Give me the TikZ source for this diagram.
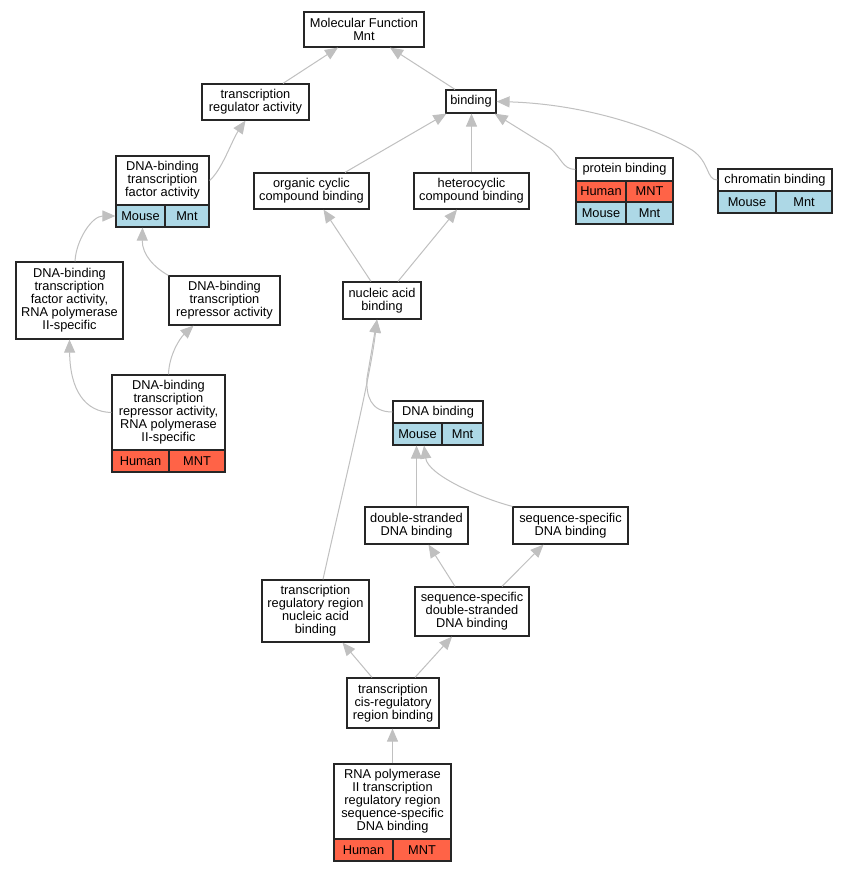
\documentclass[tikz,border=0pt]{standalone}
\usepackage{fontspec}
\setmainfont{Liberation Sans}
\usetikzlibrary{arrows.meta}
\definecolor{tomatoc}{HTML}{FF6347}
\definecolor{lblue}{HTML}{ADD8E6}
\definecolor{edgec}{HTML}{C0C0C0}
\newcommand\gofont{\fontsize{12.8}{13}\selectfont}
\newcommand\gobox[7][white]{\node[gobx, fill=#1, minimum width=#5pt-#3pt, minimum height=#6pt-#4pt] (#2) at ({(#3+#5)/2},{(#4+#6)/2}) {#7};}
\tikzset{
  gobx/.style={draw=black!85, line width=1.2pt, inner sep=0pt, align=center, font=\gofont},
  goedge/.style={draw=edgec, line width=1pt, -{Triangle[length=13pt,width=11pt]}, color=edgec}
}
\begin{document}
\begin{tikzpicture}[x=1pt,y=-1pt]
\fill[white] (0,0) rectangle (847,872);
\useasboundingbox (0,0) rectangle (847,872);

% plain boxes
\gobox{mf}{304}{12}{424}{47}{Molecular Function\\Mnt}
\gobox{tra}{202}{84}{309}{120}{transcription\\regulator activity}
\gobox{occ}{254}{173}{369}{209}{organic cyclic\\compound binding}
\gobox{bind}{446}{90}{496}{113}{binding}
\gobox{hcc}{414}{173}{529}{209}{heterocyclic\\compound binding}
\gobox{dtf2}{16}{262}{123}{339}{DNA-binding\\transcription\\factor activity,\\RNA polymerase\\II-specific}
\gobox{drep}{169}{276}{280}{325}{DNA-binding\\transcription\\repressor activity}
\gobox{nab}{343}{282}{421}{319}{nucleic acid\\binding}
\gobox{dsb}{365}{507}{468}{544}{double-stranded\\DNA binding}
\gobox{ssb}{513}{507}{628}{544}{sequence-specific\\DNA binding}
\gobox{ssds}{415}{587}{529}{636}{sequence-specific\\double-stranded\\DNA binding}
\gobox{trnab}{262}{580}{369}{642}{transcription\\regulatory region\\nucleic acid\\binding}
\gobox{cis}{347}{678}{439}{728}{transcription\\cis-regulatory\\region binding}

% table boxes
\gobox{dtf}{116}{156}{209}{227}{}
\gobox{dtft}{116}{156}{209}{205}{DNA-binding\\transcription\\factor activity}
\gobox[lblue]{dtfa}{116}{205}{165}{227}{Mouse}
\gobox[lblue]{dtfb}{165}{205}{209}{227}{Mnt}

\gobox{pb}{576}{158}{673}{224}{}
\gobox{pbt}{576}{158}{673}{181}{protein binding}
\gobox[tomatoc]{pba}{576}{181}{626}{202}{Human}
\gobox[tomatoc]{pbb}{626}{181}{673}{202}{MNT}
\gobox[lblue]{pbc}{576}{202}{626}{224}{Mouse}
\gobox[lblue]{pbd}{626}{202}{673}{224}{Mnt}

\gobox{chb}{718}{169}{832}{213}{}
\gobox{chbt}{718}{169}{832}{191}{chromatin binding}
\gobox[lblue]{chba}{718}{191}{776}{213}{Mouse}
\gobox[lblue]{chbb}{776}{191}{832}{213}{Mnt}

\gobox{drep2}{112}{375}{225}{472}{}
\gobox{drep2t}{112}{375}{225}{450}{DNA-binding\\transcription\\repressor activity,\\RNA polymerase\\II-specific}
\gobox[tomatoc]{drep2a}{112}{450}{169}{472}{Human}
\gobox[tomatoc]{drep2b}{169}{450}{225}{472}{MNT}

\gobox{dnab}{393}{401}{483}{445}{}
\gobox{dnabt}{393}{401}{483}{423}{DNA binding}
\gobox[lblue]{dnaba}{393}{423}{442}{445}{Mouse}
\gobox[lblue]{dnabb}{442}{423}{483}{445}{Mnt}

\gobox{rna}{334}{764}{451}{861}{}
\gobox{rnat}{334}{764}{451}{839}{RNA polymerase\\II transcription\\regulatory region\\sequence-specific\\DNA binding}
\gobox[tomatoc]{rnaa}{334}{839}{393}{861}{Human}
\gobox[tomatoc]{rnab}{393}{839}{451}{861}{MNT}

% connectors
\draw[goedge] ([xshift=27.5pt]tra.north) -- ([xshift=-26pt]mf.south);
\draw[goedge] ([xshift=-16pt]bind.north) -- ([xshift=26pt]mf.south);
\draw[goedge] (dtft.east) .. controls (222,170) and (232,140) .. ([xshift=-10pt]tra.south);
\draw[goedge] ([xshift=33.5pt]occ.north) -- ([xshift=1pt]bind.south west);
\draw[goedge] (hcc.north) -- (hcc.north |- bind.south);
\draw[goedge] (pbt.west) .. controls (562,169) and (562,158) .. (550,148) -- ([xshift=-2pt]bind.south east);
\draw[goedge] (chbt.west) .. controls (706,180) and (710,162) .. (692,150) .. controls (650,125) and (580,104) .. (bind.east);
\draw[goedge] ([xshift=5.5pt]dtf2.north) .. controls (76,240) and (92,216) .. (dtfa.west);
\draw[goedge] (drep.north west) .. controls (155,268) and (142,255) .. ([xshift=-20pt]dtf.south);
\draw[goedge] ([xshift=-11pt]nab.north) -- ([xshift=12pt]occ.south);
\draw[goedge] ([xshift=16pt]nab.north) -- ([xshift=-14.5pt]hcc.south);
\draw[goedge] (drep2t.west) .. controls (85,412) and (70,390) .. (dtf2.south);
\draw[goedge] (drep2.north) .. controls (169,355) and (180,338) .. ([xshift=-31pt]drep.south);
\draw[goedge] (dnabt.west) .. controls (370,412) and (366,395) .. (367,378) -- ([xshift=-5pt]nab.south);
\draw[goedge] ([xshift=7.5pt]trnab.north) .. controls (345,480) and (370,380) .. ([xshift=-5pt]nab.south);
\draw[goedge] (dsb.north) -- (dsb.north |- dnab.south);
\draw[goedge] (ssb.north west) .. controls (480,498) and (428,475) .. ([xshift=-14pt]dnab.south);
\draw[goedge] ([xshift=-17pt]ssds.north) -- ([xshift=12pt]dsb.south);
\draw[goedge] ([xshift=30pt]ssds.north) -- ([xshift=-27pt]ssb.south);
\draw[goedge] ([xshift=-21pt]cis.north) -- ([xshift=27pt]trnab.south);
\draw[goedge] ([xshift=22pt]cis.north) -- ([xshift=-20pt]ssds.south);
\draw[goedge] (rna.north) -- (rna.north |- cis.south);
\end{tikzpicture}
\end{document}
